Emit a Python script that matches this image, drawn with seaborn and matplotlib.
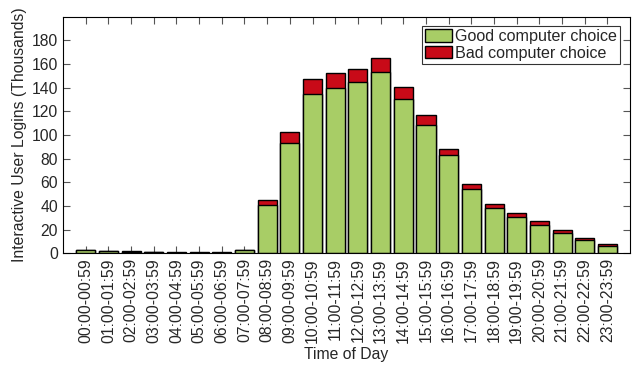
import matplotlib

matplotlib.use("Agg")
import matplotlib.pyplot as plt
import pandas as pd
import seaborn as sns
from matplotlib.patches import Patch

# hourly buckets and login counts (thousands)
hours = [f"{h:02d}:00-{h:02d}:59" for h in range(24)]
good = [2.5, 2.0, 1.4, 0.9, 0.6, 0.6, 0.6, 2.7, 41.1, 93.2, 134.4, 140.0,
        144.5, 153.2, 130.1, 108.2, 82.8, 54.4, 38.3, 30.4, 24.2, 17.2, 11.3, 6.2]
bad = [0.3, 0.3, 0.3, 0.2, 0.2, 0.2, 0.2, 0.4, 3.7, 9.1, 12.9, 12.7,
       11.6, 11.6, 10.5, 8.4, 5.4, 4.2, 3.7, 3.7, 3.1, 2.8, 1.7, 1.4]

GREEN = "#a8cd66"
RED = "#c80a18"

df = pd.DataFrame({"hour": hours, "good": good, "bad": bad})
df["total"] = df["good"] + df["bad"]

sns.set_style("ticks")
plt.rcParams["font.family"] = ["Liberation Sans", "DejaVu Sans"]

fig = plt.figure(figsize=(6.43, 3.67), dpi=100)
ax = fig.add_axes([0.098, 0.31, 0.882, 0.6445])

bar_kw = dict(width=0.84, edgecolor="black", linewidth=1.0, ax=ax, saturation=1)
sns.barplot(data=df, x="hour", y="total", color=RED, **bar_kw)
sns.barplot(data=df, x="hour", y="good", color=GREEN, **bar_kw)

ax.set_xlim(-1, 24)
ax.set_ylim(0, 200)
ax.set_yticks(range(0, 181, 20))
ax.tick_params(axis="x", labelrotation=90)
ax.tick_params(direction="in", top=True, right=True, length=5, width=0.8,
               color="#555555", labelsize=11.3)
for s in ax.spines.values():
    s.set_linewidth(0.8)
    s.set_color("black")

ax.set_xlabel("Time of Day", fontsize=11.3, labelpad=3)
ax.set_ylabel("Interactive User Logins (Thousands)", fontsize=11.3, labelpad=3)

handles = [Patch(facecolor=GREEN, edgecolor="black", label="Good computer choice"),
           Patch(facecolor=RED, edgecolor="black", label="Bad computer choice")]
leg = ax.legend(handles=handles, loc="upper right", fontsize=11.6, frameon=True,
                fancybox=False, edgecolor="black", handlelength=1.65, handleheight=0.85,
                handletextpad=0.2, borderpad=0.2, labelspacing=0.1, borderaxespad=0,
                bbox_to_anchor=(0.982, 0.962))
leg.get_frame().set_linewidth(0.8)

fig.savefig("out.png", dpi=100)
